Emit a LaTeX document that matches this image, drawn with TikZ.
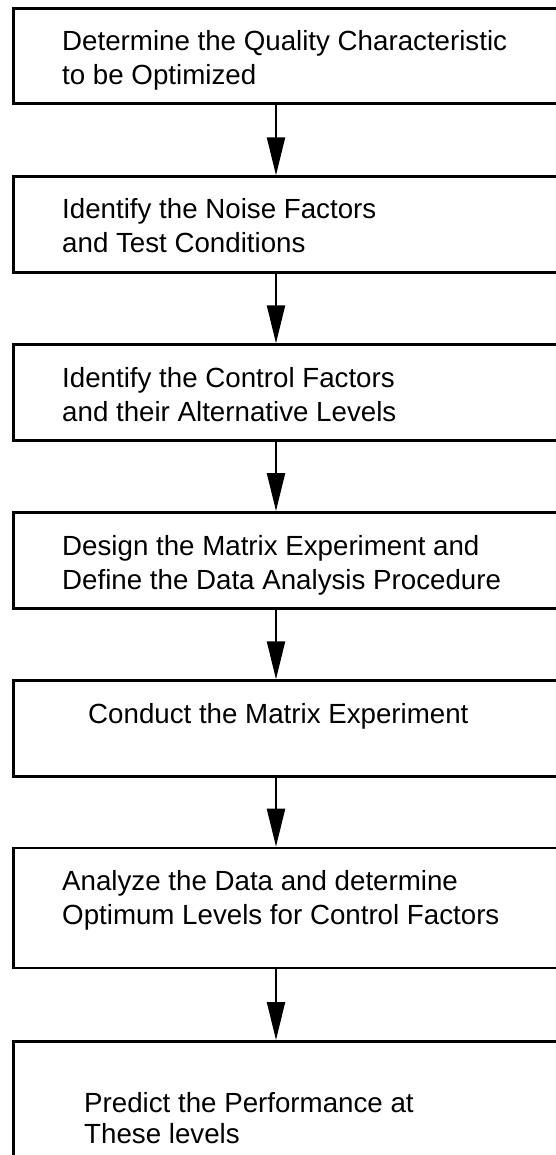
\documentclass[tikz,border=0pt]{standalone}
\usepackage{fontspec}
\setmainfont{Liberation Sans}
\usetikzlibrary{arrows.meta}
\begin{document}
\begin{tikzpicture}[x=1pt,y=1pt,
  stepbox/.style={draw=black, line width=2.6pt, fill=none, anchor=north west, minimum width=600pt, inner sep=0pt},
  lbl/.style={anchor=base west, inner sep=0pt, font=\fontsize{27.7}{33}\selectfont},
  arr/.style={line width=2.2pt, -{Triangle[width=18pt,length=38pt]}}]
\fill[white] (0,0) rectangle (556,-1155);
\useasboundingbox (0,0) rectangle (556,-1155);
\clip (0,0) rectangle (556,-1155);
% boxes
\node[stepbox, minimum height=95.2pt] (b1) at (12,-7.3) {};
\node[stepbox, minimum height=95.7pt] (b2) at (12,-175.3) {};
\node[stepbox, minimum height=96pt] (b3) at (12,-343.3) {};
\node[stepbox, minimum height=96pt] (b4) at (12,-511) {};
\node[stepbox, minimum height=96pt] (b5) at (12,-679.3) {};
\node[stepbox, minimum height=120pt] (b6) at (12,-846.7) {};
\node[stepbox, minimum height=160pt] (b7) at (12,-1040) {};
% texts
\node[lbl] (t1a) at (62,-51) {Determine the Quality Characteristic};
\node[lbl] (t1b) at (62,-85) {to be Optimized};
\node[lbl] (t2a) at (62,-219) {Identify the Noise Factors};
\node[lbl] (t2b) at (62,-253) {and Test Conditions};
\node[lbl] (t3a) at (62,-387) {Identify the Control Factors};
\node[lbl] (t3b) at (62,-421) {and their Alternative Levels};
\node[lbl] (t4a) at (62,-555) {Design the Matrix Experiment and};
\node[lbl] (t4b) at (62,-589) {Define the Data Analysis Procedure};
\node[lbl] (t5a) at (88,-723) {Conduct the Matrix Experiment};
\node[lbl] (t6a) at (62,-890) {Analyze the Data and determine};
\node[lbl] (t6b) at (62,-924) {Optimum Levels for Control Factors};
\node[lbl] (t7a) at (84,-1112) {Predict the Performance at};
\node[lbl] (t7b) at (84,-1143) {These levels};
% arrows
\draw[arr] ([xshift=264pt]b1.south west) -- ([xshift=264pt]b2.north west);
\draw[arr] ([xshift=264pt]b2.south west) -- ([xshift=264pt]b3.north west);
\draw[arr] ([xshift=264pt]b3.south west) -- ([xshift=264pt]b4.north west);
\draw[arr] ([xshift=264pt]b4.south west) -- ([xshift=264pt]b5.north west);
\draw[arr] ([xshift=264pt]b5.south west) -- ([xshift=264pt]b6.north west);
\draw[arr] ([xshift=264pt]b6.south west) -- ([xshift=264pt]b7.north west);
\end{tikzpicture}
\end{document}
